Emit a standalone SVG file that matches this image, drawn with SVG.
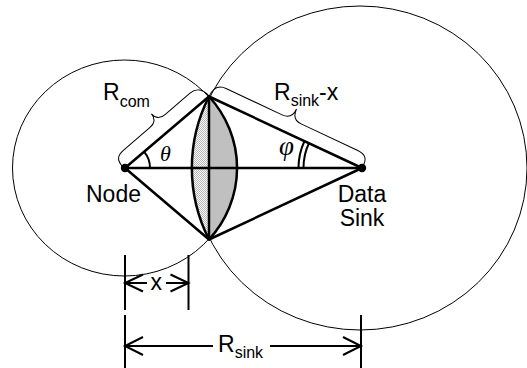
<svg xmlns="http://www.w3.org/2000/svg" width="527" height="368" viewBox="0 0 527 368">
<style>
.thin{fill:none;stroke:#000;stroke-width:1}
.thick{fill:none;stroke:#000;stroke-width:2.5;stroke-linejoin:round}
.dim{fill:none;stroke:#000;stroke-width:2}
.lbl{font-family:"Liberation Sans",Arial,sans-serif;font-size:23px;fill:#000}
.sub{font-size:16px}
.greek{font-family:"Liberation Serif","Times New Roman",serif;font-style:italic;fill:#000}
</style>
<defs>
<pattern id="stipple" width="2" height="2" patternUnits="userSpaceOnUse">
<rect width="2" height="2" fill="#fff"/>
<rect width="1" height="1" fill="#b4b4b4"/>
<rect x="1" y="1" width="1" height="1" fill="#b4b4b4"/>
</pattern>
</defs>
<rect width="527" height="368" fill="#fff"/>
<g id="ranges">
<ellipse class="thin" cx="124.5" cy="168" rx="112" ry="108"/>
<ellipse class="thin" cx="360" cy="168" rx="167" ry="162"/>
</g>
<g id="lens">
<path d="M209 96.5 A167 162 0 0 0 209 239.5 Z" fill="url(#stipple)"/>
<path d="M209 96.5 A112 108 0 0 1 209 239.5 Z" fill="#c0c0c0"/>
<path class="thick" d="M209 96.5 A167 162 0 0 0 209 239.5 A112 108 0 0 0 209 96.5 Z"/>
</g>
<g id="connectors">
<path class="thick" d="M125 168 L209 96.5 L362 168 L209 239.5 Z"/>
<path class="thick" d="M125 168 H362 M209 96.5 V239.5"/>
<path class="dim" d="M150 168 A25 25 0 0 0 144 151.7"/>
<path class="dim" d="M298.5 168 A63.5 63.5 0 0 1 304.5 141"/>
<path class="dim" d="M303.5 168 A58.5 58.5 0 0 1 309 143"/>
<g transform="translate(125 168) rotate(-40.6)">
<path class="thin" d="M-1 -3 C-1 -12 3 -14.5 11 -14.5 L45 -14.5 C52 -14.5 55.3 -18 55.3 -24 C55.3 -18 58.6 -14.5 65.6 -14.5 L98 -14.5 C106 -14.5 110.6 -9 110.6 0"/>
</g>
<g transform="translate(209 96.5) rotate(25.2)">
<path class="thin" d="M0 0 C0 -10 4 -14.5 12 -14.5 L74 -14.5 C81 -14.5 84.5 -19 84.5 -26 C84.5 -19 88 -14.5 95 -14.5 L157 -14.5 C165 -14.5 169 -12 169 -4"/>
</g>
</g>
<g id="node">
<circle cx="125" cy="168" r="4.2" fill="#000"/>
<text class="lbl" x="86" y="201.5">Node</text>
</g>
<g id="sink">
<circle cx="362" cy="168" r="4.2" fill="#000"/>
<text class="lbl" x="362" y="201.5" text-anchor="middle">Data</text>
<text class="lbl" x="362" y="225.5" text-anchor="middle">Sink</text>
</g>
<g id="labels">
<text class="lbl" x="103" y="100">R<tspan class="sub" dy="6.5">com</tspan></text>
<text class="lbl" x="274" y="100">R<tspan class="sub" dy="5.5">sink</tspan><tspan dy="-5.5">-x</tspan></text>
<text class="greek" x="160" y="160.5" font-size="22">θ</text>
<text class="greek" x="279" y="155" font-size="27">φ</text>
</g>
<g id="dimension-x">
<path class="dim" d="M125 255 V310 M188.5 255 V310 M125 283 H147 M166 283 H188.5 M143 274.5 L125 283 L143 291.5 M170.5 274.5 L188.5 283 L170.5 291.5"/>
<text class="lbl" x="150.5" y="290">x</text>
</g>
<g id="dimension-rsink">
<path class="dim" d="M125 315 V368 M361 315 V368 M125 346 H213 M270 346 H361 M143 337 L125 346 L143 355 M343 337 L361 346 L343 355"/>
<text class="lbl" x="218" y="352">R<tspan class="sub" dy="6">sink</tspan></text>
</g>
</svg>
